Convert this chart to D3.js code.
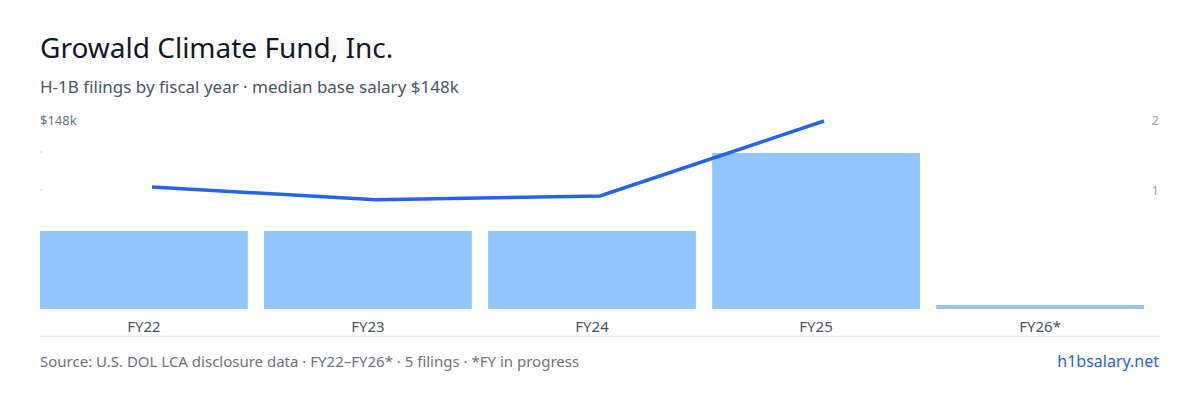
<!DOCTYPE html>
<html><head><meta charset="utf-8">
<script src="https://cdn.jsdelivr.net/npm/d3@7"></script>
<style>body{margin:0;background:#fff;font-family:"Noto Sans",sans-serif}</style>
</head><body><svg id="c" width="1200" height="400"></svg>
<script>
const years = ["FY22", "FY23", "FY24", "FY25", "FY26*"];
const filings = [1, 1, 1, 2, 0];
const salaryYears = ["FY22", "FY23", "FY24", "FY25"];
const salaries = [96000, 86000, 89000, 148000];
const rightTicks = [1, 2];

const svg = d3.select("#c");
const base = 309;

svg.append("text").attr("x", 40).attr("y", 58).attr("font-size", 28).attr("fill", "#111827").text("Growald Climate Fund, Inc.");
svg.append("text").attr("x", 40).attr("y", 93).attr("font-size", 17).attr("fill", "#4b5563").text("H-1B filings by fiscal year · median base salary $148k");

const x = d3.scaleBand().domain(years).range([40, 1144]).paddingInner(0.0725);
const yBar = d3.scaleLinear().domain([0, 2]).range([base, 153]);
const xLine = d3.scalePoint().domain(years).range([40, 1160]).padding(0.5);
const ySal = d3.scaleLinear().domain([0, 148000]).range([base, 121]);
const yRight = d3.scaleLinear().domain([0, 2]).range([260, 120]);

svg.selectAll("rect.bar").data(years).join("rect").attr("class", "bar")
  .attr("x", d => x(d)).attr("width", x.bandwidth())
  .attr("y", (d, i) => Math.min(yBar(filings[i]), base - 4))
  .attr("height", (d, i) => Math.max(base - yBar(filings[i]), 4))
  .attr("fill", "#93c5fd");

svg.append("path").datum(salaries)
  .attr("d", d3.line().x((d, i) => xLine(salaryYears[i])).y(d => ySal(d)))
  .attr("fill", "none").attr("stroke", "#2563eb").attr("stroke-width", 3.5);

// left axis
svg.append("text").attr("x", 40).attr("y", 125).attr("font-size", 13).attr("fill", "#6b7280").text("$148k");
[152, 190].forEach(v => svg.append("line").attr("x1", 40).attr("x2", 42).attr("y1", v).attr("y2", v).attr("stroke", "#d1d5db"));

// right axis
svg.selectAll("text.rt").data(rightTicks).join("text").attr("class", "rt")
  .attr("x", 1159).attr("y", d => yRight(d) + 5).attr("text-anchor", "end")
  .attr("font-size", 13).attr("fill", "#9ca3af").text(d => d);

// x labels
svg.selectAll("text.xl").data(years).join("text").attr("class", "xl")
  .attr("x", d => x(d) + x.bandwidth() / 2).attr("y", 332).attr("text-anchor", "middle")
  .attr("font-size", 15).attr("fill", "#4b5563").text(d => d);
svg.append("line").attr("x1", 40).attr("x2", 1160).attr("y1", 336.5).attr("y2", 336.5).attr("stroke", "#e5e7eb").attr("stroke-width", 1.5);

svg.append("text").attr("x", 40).attr("y", 367).attr("font-size", 15).attr("fill", "#6b7280").text("Source: U.S. DOL LCA disclosure data · FY22–FY26* · 5 filings · *FY in progress");
svg.append("text").attr("x", 1159).attr("y", 367).attr("text-anchor", "end").attr("font-size", 16).attr("fill", "#2563eb").text("h1bsalary.net");
</script></body></html>
